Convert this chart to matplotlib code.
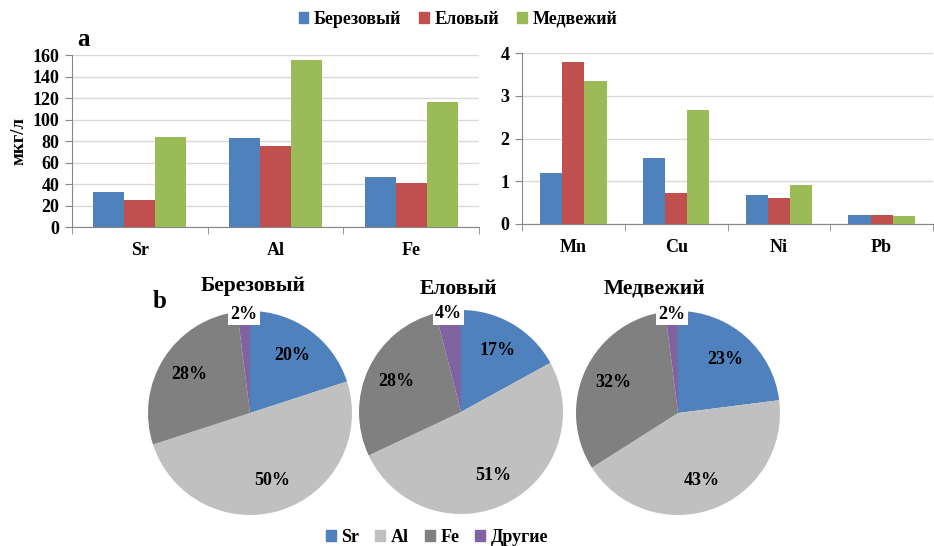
import numpy as np
import matplotlib
matplotlib.use('Agg')
import matplotlib.pyplot as plt
from matplotlib.patches import Patch

plt.rcParams['font.family'] = ['Liberation Serif', 'DejaVu Serif']
plt.rcParams['font.weight'] = 'bold'

# data
sites = ['Березовый', 'Еловый', 'Медвежий']
elements_a = ['Sr', 'Al', 'Fe']
berez_a = [33, 82.5, 46.5]
elov_a = [24.7, 75.3, 41.3]
medv_a = [83.4, 155, 116]
elements_b = ['Mn', 'Cu', 'Ni', 'Pb']
berez_b = [1.2, 1.55, 0.68, 0.21]
elov_b = [3.79, 0.73, 0.6, 0.21]
medv_b = [3.34, 2.66, 0.91, 0.19]
pie_labels = ['Sr', 'Al', 'Fe', 'Другие']
pie_berez = [20, 50, 28, 2]
pie_elov = [17, 51, 28, 4]
pie_medv = [23, 43, 32, 2]

bar_colors = ['#4F81BD', '#C0504D', '#9BBB59']
pie_colors = ['#4F81BD', '#C0C0C0', '#808080', '#8064A2']
spine_c = '#868686'
grid_c = '#D9D9D9'

W, H = 934, 546
fig = plt.figure(figsize=(W / 100, H / 100), dpi=100)

def px_axes(x0, y_top, x1, y_bot):
    return fig.add_axes([x0 / W, 1 - y_bot / H, (x1 - x0) / W, (y_bot - y_top) / H])

def bar_panel(ax, cats, series, bw, ymax, step, xmax):
    x = np.arange(len(cats))
    for i, (vals, c) in enumerate(zip(series, bar_colors)):
        ax.bar(x + (i - 1) * bw, vals, bw, color=c, zorder=3, linewidth=0)
    ax.set_xlim(-0.5, xmax)
    ax.set_ylim(0, ymax)
    ax.set_yticks(np.arange(0, ymax + step / 2, step))
    ax.yaxis.grid(True, color=grid_c, lw=1, zorder=0)
    for s in ['top', 'right']:
        ax.spines[s].set_visible(False)
    for s in ['left', 'bottom']:
        ax.spines[s].set_color(spine_c)
    ax.set_xticks(x)
    ax.set_xticklabels(cats, fontsize=13, fontweight='bold')
    ax.set_xticks(np.arange(-0.5, len(cats) + 0.5, 1), minor=True)
    ax.tick_params(axis='x', which='major', length=0, pad=11)
    ax.tick_params(axis='x', which='minor', length=5, color=spine_c)
    ax.tick_params(axis='y', length=5, color=spine_c, labelsize=13, pad=4)
    for t in ax.get_yticklabels():
        t.set_fontweight('bold')

ax1 = px_axes(72, 55, 479, 227)
bar_panel(ax1, elements_a, [berez_a, elov_a, medv_a], 0.228, 160, 20, 2.5)
ax1.set_ylabel('мкг/л', fontsize=13.5, fontweight='bold', labelpad=4)

ax2 = px_axes(522, 53, 933, 224)
bar_panel(ax2, elements_b, [berez_b, elov_b, medv_b], 0.215, 4, 1, 3.38)

fig.text(83 / W, 1 - 40 / H, 'a', fontsize=18, fontweight='bold', ha='center', va='center')
fig.text(160 / W, 1 - 302 / H, 'b', fontsize=18, fontweight='bold', ha='center', va='center')

handles = [Patch(color=c) for c in bar_colors]
fig.legend(handles, sites, loc='center', bbox_to_anchor=(458 / W, 1 - 19 / H), ncol=3,
           frameon=False, handlelength=0.55, handleheight=0.55,
           handletextpad=0.3, columnspacing=1.0, prop={'weight': 'bold', 'size': 13})

# pies
r = 102
centers = [(250, 413), (461, 412), (678, 413)]
title_pos = [(253, 286), (458, 289), (655, 290)]
for vals, name, (cx, cy), (tx, ty) in zip([pie_berez, pie_elov, pie_medv], sites, centers, title_pos):
    ax = px_axes(cx - r, cy - r, cx + r, cy + r)
    wedges, texts, autotexts = ax.pie(vals, colors=pie_colors, startangle=90, counterclock=False,
                                      autopct='%.0f%%', pctdistance=0.7,
                                      wedgeprops={'linewidth': 0},
                                      textprops={'fontsize': 13, 'fontweight': 'bold'})
    ax.set_xlim(-1, 1)
    ax.set_ylim(-1, 1)
    for w, t, v in zip(wedges, autotexts, vals):
        if v < 5:
            ang = np.deg2rad((w.theta1 + w.theta2) / 2)
            t.set_position((0.97 * np.cos(ang), 0.97 * np.sin(ang)))
            t.set_bbox(dict(facecolor='white', edgecolor='none', pad=1.5))
    fig.text(tx / W, 1 - ty / H, name, fontsize=15.5, fontweight='bold', ha='center', va='center')

handles2 = [Patch(color=c) for c in pie_colors]
fig.legend(handles2, pie_labels, loc='center', bbox_to_anchor=(437 / W, 1 - 537 / H), ncol=4,
           frameon=False, handlelength=0.55, handleheight=0.55,
           handletextpad=0.3, columnspacing=0.9, prop={'weight': 'bold', 'size': 13})

fig.savefig('out.png', dpi=100)
